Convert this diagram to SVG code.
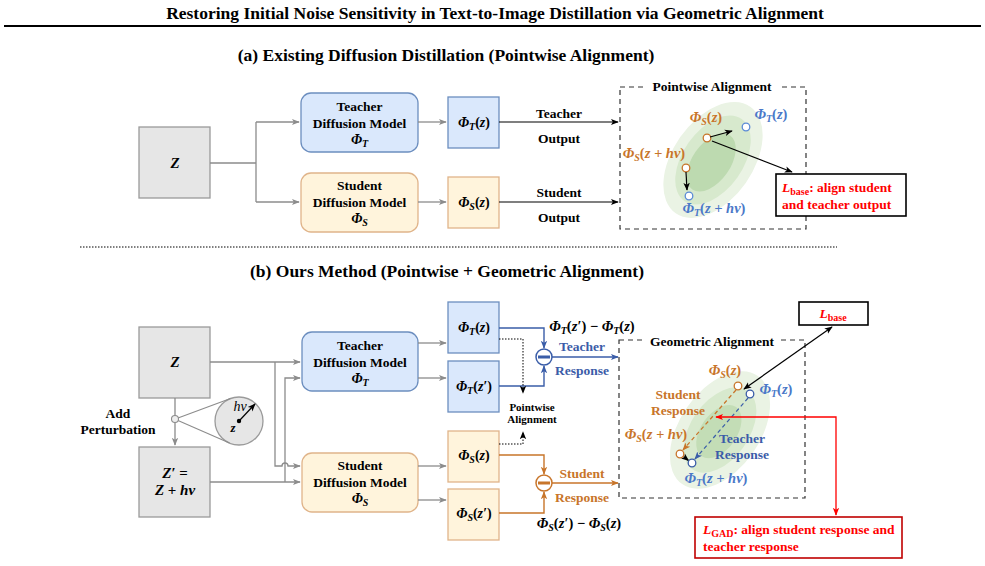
<svg xmlns="http://www.w3.org/2000/svg" width="985" height="566" viewBox="0 0 985 566">
<style>
.t{font-family:"Liberation Serif",serif;font-weight:bold;}
.m{font-family:"Liberation Serif",serif;font-weight:bold;font-style:italic;}
.up{font-style:normal;}
.gl{fill:none;stroke:#8c8c8c;stroke-width:1.3;}
.bx{fill:#e6e6e6;stroke:#9a9a9a;stroke-width:1.3;}
.tb{fill:#dae8fc;stroke:#6c8ebf;stroke-width:1.3;}
.sb{fill:#fff4dc;stroke:#e0b48a;stroke-width:1.3;}
.dash{fill:none;stroke:#333;stroke-width:1.2;stroke-dasharray:5 4;}
.or{fill:#c8752a;}
.bl{fill:#4a78c8;}
.dbl{fill:#3b5ca8;}
.red{fill:#ff0000;}
.po{fill:#fff;stroke:#c8752a;stroke-width:1.3;}
.pb{fill:#fff;stroke:#5b8bd6;stroke-width:1.3;}
</style>
<defs>
<marker id="ag" viewBox="0 0 10 10" refX="9" refY="5" markerWidth="8" markerHeight="8" markerUnits="userSpaceOnUse" orient="auto"><path d="M0 1 L10 5 L0 9 L2.5 5 z" fill="#8c8c8c"/></marker>
<marker id="ak" viewBox="0 0 10 10" refX="9" refY="5" markerWidth="8" markerHeight="8" markerUnits="userSpaceOnUse" orient="auto-start-reverse"><path d="M0 1 L10 5 L0 9 L2.5 5 z" fill="#000"/></marker>
<marker id="ab" viewBox="0 0 10 10" refX="9" refY="5" markerWidth="8" markerHeight="8" markerUnits="userSpaceOnUse" orient="auto"><path d="M0 1 L10 5 L0 9 L2.5 5 z" fill="#3a5da8"/></marker>
<marker id="ao" viewBox="0 0 10 10" refX="9" refY="5" markerWidth="8" markerHeight="8" markerUnits="userSpaceOnUse" orient="auto"><path d="M0 1 L10 5 L0 9 L2.5 5 z" fill="#c8752a"/></marker>
<marker id="ar" viewBox="0 0 10 10" refX="9" refY="5" markerWidth="8" markerHeight="8" markerUnits="userSpaceOnUse" orient="auto-start-reverse"><path d="M0 1 L10 5 L0 9 L2.5 5 z" fill="#ff0000"/></marker>
</defs>

<text class="t" x="495" y="19" font-size="17.5" text-anchor="middle">Restoring Initial Noise Sensitivity in Text-to-Image Distillation via Geometric Alignment</text>
<line x1="4" y1="26" x2="981" y2="26" stroke="#000" stroke-width="2"/>

<text class="t" x="446" y="61" font-size="17.5" text-anchor="middle">(a) Existing Diffusion Distillation (Pointwise Alignment)</text>
<line x1="80" y1="247" x2="837" y2="247" stroke="#000" stroke-width="1" stroke-dasharray="1.5 1.5"/>
<text class="t" x="447" y="277" font-size="17.5" text-anchor="middle">(b) Ours Method (Pointwise + Geometric Alignment)</text>

<!-- ===== Part (a) nodes ===== -->
<g id="a-z"><rect class="bx" x="139" y="127" width="71" height="71"/><text class="m" x="175" y="168" font-size="15" text-anchor="middle">Z</text></g>
<g id="a-teacher"><rect class="tb" x="301" y="93" width="117" height="59" rx="10"/>
<text class="t" x="359.5" y="111" font-size="13.5" text-anchor="middle">Teacher</text>
<text class="t" x="359.5" y="128" font-size="13.5" text-anchor="middle">Diffusion Model</text>
<text class="m" x="359.5" y="144" font-size="14" text-anchor="middle">Φ<tspan dy="3" font-size="10">T</tspan></text></g>
<g id="a-student"><rect class="sb" x="301" y="173" width="117" height="59" rx="10"/>
<text class="t" x="359.5" y="190" font-size="13.5" text-anchor="middle">Student</text>
<text class="t" x="359.5" y="207" font-size="13.5" text-anchor="middle">Diffusion Model</text>
<text class="m" x="359.5" y="223" font-size="14" text-anchor="middle">Φ<tspan dy="3" font-size="10">S</tspan></text></g>
<g id="a-phit"><rect class="tb" x="448" y="97" width="51" height="51"/><text class="m" x="474" y="127" font-size="14" text-anchor="middle">Φ<tspan dy="3" font-size="10">T</tspan><tspan dy="-3" class="up">(</tspan>z<tspan class="up">)</tspan></text></g>
<g id="a-phis"><rect class="sb" x="448" y="177" width="51" height="51"/><text class="m" x="474" y="207" font-size="14" text-anchor="middle">Φ<tspan dy="3" font-size="10">S</tspan><tspan dy="-3" class="up">(</tspan>z<tspan class="up">)</tspan></text></g>

<g id="a-pointwise">
<rect class="dash" x="620" y="87" width="186" height="142"/>
<rect x="645" y="79" width="135" height="16" fill="#fff"/>
<text class="t" x="712" y="91" font-size="13.5" text-anchor="middle">Pointwise Alignment</text>
<g transform="translate(713,160) rotate(-55)">
<ellipse rx="65" ry="40" fill="#eaf3e4"/>
<ellipse rx="50" ry="30" fill="#d7e9cd"/>
<ellipse cx="-3" cy="0" rx="33" ry="19" fill="#bddab0"/>
</g>
<circle class="po" cx="707" cy="138" r="3.8"/>
<circle class="pb" cx="746" cy="127" r="3.8"/>
<circle class="po" cx="686" cy="168" r="3.8"/>
<circle class="pb" cx="689" cy="196" r="3.8"/>
<text class="m or" x="706" y="122" font-size="14.5" text-anchor="middle">Φ<tspan dy="3" font-size="10">S</tspan><tspan dy="-3" class="up">(</tspan>z<tspan class="up">)</tspan></text>
<text class="m bl" x="771" y="119" font-size="14.5" text-anchor="middle">Φ<tspan dy="3" font-size="10">T</tspan><tspan dy="-3" class="up">(</tspan>z<tspan class="up">)</tspan></text>
<text class="m or" x="654" y="158" font-size="14.5" text-anchor="middle">Φ<tspan dy="3" font-size="10">S</tspan><tspan dy="-3" class="up">(</tspan>z + hv<tspan class="up">)</tspan></text>
<text class="m bl" x="714" y="213" font-size="14.5" text-anchor="middle">Φ<tspan dy="3" font-size="10">T</tspan><tspan dy="-3" class="up">(</tspan>z + hv<tspan class="up">)</tspan></text>
</g>
<g id="a-lbase">
<rect x="776" y="174" width="130" height="42" fill="#fff" stroke="#000" stroke-width="1.6"/>
<text class="t red" x="782" y="192" font-size="13.5"><tspan font-style="italic">L</tspan><tspan dy="3" font-size="10">base</tspan><tspan dy="-3">: align student</tspan></text>
<text class="t red" x="782" y="209" font-size="13.5">and teacher output</text>
</g>

<!-- ===== Part (b) nodes ===== -->
<g id="b-z"><rect class="bx" x="139" y="327" width="71" height="71"/><text class="m" x="175" y="367" font-size="15" text-anchor="middle">Z</text></g>
<g id="b-zp"><rect class="bx" x="139" y="447" width="71" height="70"/>
<text class="m" x="175" y="478" font-size="15" text-anchor="middle">Z′ <tspan class="up">=</tspan></text>
<text class="m" x="175" y="495" font-size="15" text-anchor="middle">Z <tspan class="up">+</tspan> hv</text></g>
<g id="b-perturb">
<text class="t" x="118" y="418" font-size="13.5" text-anchor="middle">Add</text>
<text class="t" x="118" y="434" font-size="13.5" text-anchor="middle">Perturbation</text>
<circle cx="239" cy="421" r="24" fill="#e6e6e6" stroke="#9a9a9a" stroke-width="1.3"/>
<line x1="178" y1="418" x2="230.5" y2="398.5" stroke="#8c8c8c" stroke-width="1.1"/>
<line x1="178" y1="420.5" x2="229.5" y2="443" stroke="#8c8c8c" stroke-width="1.1"/>
<circle cx="175" cy="419" r="3.5" fill="#eee" stroke="#8c8c8c" stroke-width="1.1"/>
<text x="240" y="411" font-size="14" text-anchor="middle" style="font-family:'Liberation Serif',serif;font-style:italic">hv</text>
<text class="m" x="233" y="432" font-size="13" text-anchor="middle">z</text>
<line x1="239" y1="421" x2="255" y2="404" stroke="#000" stroke-width="1.2" marker-end="url(#ak)"/>
<circle cx="239" cy="421" r="2.2" fill="#000"/>
</g>
<g id="b-teacher"><rect class="tb" x="302" y="332" width="116" height="59" rx="10"/>
<text class="t" x="360" y="350" font-size="13.5" text-anchor="middle">Teacher</text>
<text class="t" x="360" y="367" font-size="13.5" text-anchor="middle">Diffusion Model</text>
<text class="m" x="360" y="383" font-size="14" text-anchor="middle">Φ<tspan dy="3" font-size="10">T</tspan></text></g>
<g id="b-student"><rect class="sb" x="302" y="453" width="116" height="59" rx="10"/>
<text class="t" x="360" y="470" font-size="13.5" text-anchor="middle">Student</text>
<text class="t" x="360" y="487" font-size="13.5" text-anchor="middle">Diffusion Model</text>
<text class="m" x="360" y="503" font-size="14" text-anchor="middle">Φ<tspan dy="3" font-size="10">S</tspan></text></g>
<g id="b-phitz"><rect class="tb" x="448" y="302" width="51" height="51"/><text class="m" x="474" y="332" font-size="14" text-anchor="middle">Φ<tspan dy="3" font-size="10">T</tspan><tspan dy="-3" class="up">(</tspan>z<tspan class="up">)</tspan></text></g>
<g id="b-phitzp"><rect class="tb" x="448" y="361" width="51" height="51"/><text class="m" x="474" y="391" font-size="14" text-anchor="middle">Φ<tspan dy="3" font-size="10">T</tspan><tspan dy="-3" class="up">(</tspan>z′<tspan class="up">)</tspan></text></g>
<g id="b-phisz"><rect class="sb" x="448" y="431" width="51" height="51"/><text class="m" x="474" y="460" font-size="14" text-anchor="middle">Φ<tspan dy="3" font-size="10">S</tspan><tspan dy="-3" class="up">(</tspan>z<tspan class="up">)</tspan></text></g>
<g id="b-phiszp"><rect class="sb" x="448" y="489" width="51" height="51"/><text class="m" x="474" y="518" font-size="14" text-anchor="middle">Φ<tspan dy="3" font-size="10">S</tspan><tspan dy="-3" class="up">(</tspan>z′<tspan class="up">)</tspan></text></g>
<g id="b-minus-t"><circle cx="544" cy="357" r="8" fill="#fff" stroke="#3a5da8" stroke-width="1.5"/><rect x="538" y="355.5" width="12" height="3" fill="#3a5da8"/></g>
<g id="b-minus-s"><circle cx="544" cy="483" r="8" fill="#fff" stroke="#c8752a" stroke-width="1.5"/><rect x="538" y="481.5" width="12" height="3" fill="#c8752a"/></g>
<g id="b-pw-label">
<text class="t" x="532" y="411" font-size="11" text-anchor="middle">Pointwise</text>
<text class="t" x="532" y="423" font-size="11" text-anchor="middle">Alignment</text>
</g>
<g id="b-geometric">
<rect class="dash" x="619" y="340" width="186" height="158"/>
<rect x="644" y="333" width="136" height="16" fill="#fff"/>
<text class="t" x="712" y="346" font-size="13.5" text-anchor="middle">Geometric Alignment</text>
<g transform="translate(720,430) rotate(-55)">
<ellipse rx="66" ry="40" fill="#eaf3e4"/>
<ellipse rx="48" ry="29" fill="#d7e9cd"/>
<ellipse cx="-2" rx="30" ry="18" fill="#c3ddb6"/>
</g>
<text class="t or" x="678" y="399" font-size="13.5" text-anchor="middle">Student</text>
<text class="t or" x="678" y="415" font-size="13.5" text-anchor="middle">Response</text>
<text class="t dbl" x="742" y="443" font-size="13.5" text-anchor="middle">Teacher</text>
<text class="t dbl" x="742" y="459" font-size="13.5" text-anchor="middle">Response</text>
<line x1="736" y1="390" x2="683" y2="450" stroke="#c8752a" stroke-width="1.2" stroke-dasharray="4 3" marker-end="url(#ao)"/>
<line x1="748" y1="398" x2="695" y2="459" stroke="#3a5da8" stroke-width="1.2" stroke-dasharray="4 3" marker-end="url(#ab)"/>
<line x1="683.5" y1="456.5" x2="688.5" y2="460.5" stroke="#000" stroke-width="1.2" marker-end="url(#ak)"/>
<circle class="po" cx="738" cy="386" r="3.8"/>
<circle class="pb" cx="750" cy="394" r="3.8" style="stroke:#3a5da8"/>
<circle class="po" cx="680" cy="454" r="3.8"/>
<circle class="pb" cx="692" cy="463" r="3.8" style="stroke:#3a5da8"/>
<text class="m or" x="725" y="375" font-size="14.5" text-anchor="middle">Φ<tspan dy="3" font-size="10">S</tspan><tspan dy="-3" class="up">(</tspan>z<tspan class="up">)</tspan></text>
<text class="m bl" x="776" y="394" font-size="14.5" text-anchor="middle">Φ<tspan dy="3" font-size="10">T</tspan><tspan dy="-3" class="up">(</tspan>z<tspan class="up">)</tspan></text>
<text class="m or" x="656" y="439" font-size="14.5" text-anchor="middle">Φ<tspan dy="3" font-size="10">S</tspan><tspan dy="-3" class="up">(</tspan>z + hv<tspan class="up">)</tspan></text>
<text class="m bl" x="716" y="483" font-size="14.5" text-anchor="middle">Φ<tspan dy="3" font-size="10">T</tspan><tspan dy="-3" class="up">(</tspan>z + hv<tspan class="up">)</tspan></text>
</g>
<g id="b-lbase"><rect x="799" y="302" width="69" height="23" fill="#fff" stroke="#000" stroke-width="1.6"/>
<text class="t red" x="833" y="318" font-size="13.5" text-anchor="middle"><tspan font-style="italic">L</tspan><tspan dy="3" font-size="10">base</tspan></text></g>
<g id="b-lgad"><rect x="695" y="517" width="207" height="41" fill="#fff" stroke="#c00000" stroke-width="1.6"/>
<text class="t red" x="703" y="534" font-size="13.5"><tspan font-style="italic">L</tspan><tspan dy="3" font-size="10">GAD</tspan><tspan dy="-3">: align student response and</tspan></text>
<text class="t red" x="703" y="551" font-size="13.5">teacher response</text></g>

<!-- ===== connectors ===== -->
<g id="connectors">
<path class="gl" d="M210 163 H256 M256 122 V202"/>
<path class="gl" d="M256 122 H299" marker-end="url(#ag)"/>
<path class="gl" d="M256 202 H299" marker-end="url(#ag)"/>
<path class="gl" d="M418 122 H446" marker-end="url(#ag)"/>
<path class="gl" d="M418 202 H446" marker-end="url(#ag)"/>
<path d="M499 122 H618" fill="none" stroke="#000" stroke-width="1.2" marker-end="url(#ak)"/>
<path d="M499 202 H618" fill="none" stroke="#000" stroke-width="1.2" marker-end="url(#ak)"/>
<text class="t" x="559" y="118" font-size="13.5" text-anchor="middle">Teacher</text>
<text class="t" x="559" y="143" font-size="13.5" text-anchor="middle">Output</text>
<text class="t" x="559" y="197" font-size="13.5" text-anchor="middle">Student</text>
<text class="t" x="559" y="222" font-size="13.5" text-anchor="middle">Output</text>
<path d="M710 137 L732 131" fill="none" stroke="#000" stroke-width="1.2" marker-end="url(#ak)"/>
<path d="M686 172 L687 190" fill="none" stroke="#000" stroke-width="1.2" marker-end="url(#ak)"/>
<path d="M712 141 L792 172" fill="none" stroke="#000" stroke-width="1.2" marker-end="url(#ak)"/>

<path class="gl" d="M175 398 V415.5 M175 422.5 V445" marker-end="url(#ag)"/>
<path class="gl" d="M210 362 H300" marker-end="url(#ag)"/>
<path class="gl" d="M275 362 V466 H282 A3 3 0 0 1 288 466 H300" marker-end="url(#ag)"/>
<path class="gl" d="M210 482 H300" marker-end="url(#ag)"/>
<path class="gl" d="M285 482 V378 H300" marker-end="url(#ag)"/>
<path class="gl" d="M418 343 H446" marker-end="url(#ag)"/>
<path class="gl" d="M418 378 H446" marker-end="url(#ag)"/>
<path class="gl" d="M418 466 H446" marker-end="url(#ag)"/>
<path class="gl" d="M418 500 H446" marker-end="url(#ag)"/>

<path d="M499 328 H544 V348" fill="none" stroke="#3a5da8" stroke-width="1.4" marker-end="url(#ab)"/>
<path d="M499 386 H544 V366" fill="none" stroke="#3a5da8" stroke-width="1.4" marker-end="url(#ab)"/>
<path d="M552 357 H618" fill="none" stroke="#3a5da8" stroke-width="1.4" marker-end="url(#ab)"/>
<path d="M499 455 H544 V474" fill="none" stroke="#c8752a" stroke-width="1.4" marker-end="url(#ao)"/>
<path d="M499 513 H544 V492" fill="none" stroke="#c8752a" stroke-width="1.4" marker-end="url(#ao)"/>
<path d="M552 483 H618" fill="none" stroke="#c8752a" stroke-width="1.4" marker-end="url(#ao)"/>
<text class="m" x="592" y="331" font-size="14.5" text-anchor="middle">Φ<tspan dy="3" font-size="10">T</tspan><tspan dy="-3" class="up">(</tspan>z′<tspan class="up">)  −  </tspan>Φ<tspan dy="3" font-size="10">T</tspan><tspan dy="-3" class="up">(</tspan>z<tspan class="up">)</tspan></text>
<text class="t dbl" x="582" y="351" font-size="13.5" text-anchor="middle">Teacher</text>
<text class="t dbl" x="582" y="375" font-size="13.5" text-anchor="middle">Response</text>
<text class="t or" x="582" y="478" font-size="13.5" text-anchor="middle">Student</text>
<text class="t or" x="582" y="502" font-size="13.5" text-anchor="middle">Response</text>
<text class="m" x="579" y="528" font-size="14.5" text-anchor="middle">Φ<tspan dy="3" font-size="10">S</tspan><tspan dy="-3" class="up">(</tspan>z′<tspan class="up">)  −  </tspan>Φ<tspan dy="3" font-size="10">S</tspan><tspan dy="-3" class="up">(</tspan>z<tspan class="up">)</tspan></text>
<path d="M499 339 H523 V393" fill="none" stroke="#000" stroke-width="1" stroke-dasharray="1.5 1.5" marker-end="url(#ak)"/>
<path d="M499 444 H523 V432" fill="none" stroke="#000" stroke-width="1" stroke-dasharray="1.5 1.5" marker-end="url(#ak)"/>

<path d="M832 327 L744 389" fill="none" stroke="#000" stroke-width="1.2" marker-start="url(#ak)" marker-end="url(#ak)"/>
<path d="M716 417 H836 V515" fill="none" stroke="#ff0000" stroke-width="1.3" marker-start="url(#ar)" marker-end="url(#ar)"/>
</g>
</svg>
